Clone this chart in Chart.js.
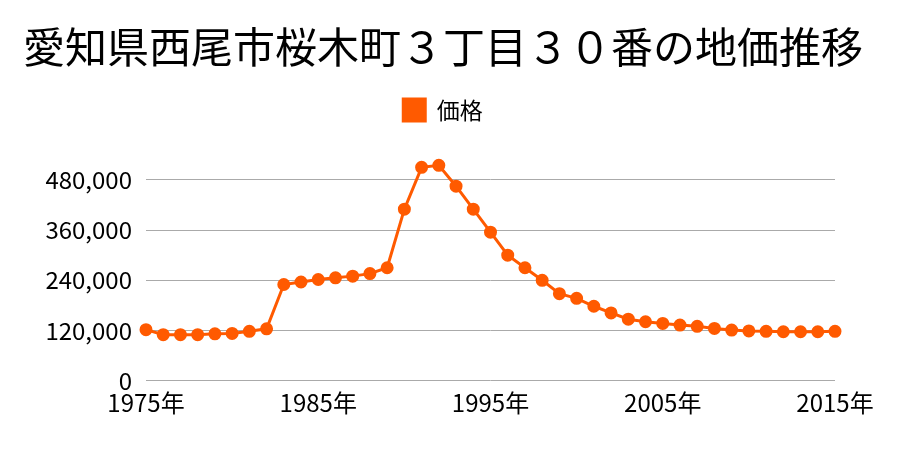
<!DOCTYPE html>
<html>
<head>
<meta charset="utf-8">
<script src="https://cdn.jsdelivr.net/npm/chart.js@4/dist/chart.umd.min.js"></script>
<style>
html,body{margin:0;padding:0;background:#fff;}
#wrap{width:900px;height:450px;}
</style>
</head>
<body>
<div id="wrap"><canvas id="c" width="900" height="450"></canvas></div>
<script>
const titleText = "愛知県西尾市桜木町３丁目３０番の地価推移";
const seriesName = "価格";
const years = [1975,1976,1977,1978,1979,1980,1981,1982,1983,1984,1985,1986,1987,1988,1989,1990,1991,1992,1993,1994,1995,1996,1997,1998,1999,2000,2001,2002,2003,2004,2005,2006,2007,2008,2009,2010,2011,2012,2013,2014,2015];
const prices = [122000,110000,110000,110000,112000,113000,118000,124000,230000,236000,242000,246000,250000,256000,270000,410000,510000,515000,465000,410000,355000,300000,270000,240000,208000,197000,178000,162000,147000,141000,137000,133000,130000,125000,121000,119000,118000,117000,117000,117000,118000];
const yTicks = [0,120000,240000,360000,480000];

const FONT = "'Noto Sans CJK JP', 'Noto Sans', sans-serif";
const COLOR = '#ff5a00';

new Chart(document.getElementById('c'), {
  type: 'line',
  data: {
    labels: years.map(y => y + '年'),
    datasets: [{
      label: seriesName,
      data: prices,
      borderColor: COLOR,
      backgroundColor: COLOR,
      pointBackgroundColor: COLOR,
      pointBorderColor: COLOR,
      borderWidth: 3,
      pointRadius: 5,
      tension: 0,
      clip: false
    }]
  },
  options: {
    responsive: false,
    animation: false,
    devicePixelRatio: 1,
    layout: { padding: { left: 0, right: 14, top: 0, bottom: 32.5 } },
    plugins: {
      title: {
        display: true,
        text: titleText,
        color: '#000',
        font: { family: FONT, size: 42, weight: 'normal' },
        padding: { top: 22, bottom: 16 }
      },
      legend: {
        display: true,
        labels: {
          color: '#000',
          font: { family: FONT, size: 23 },
          boxWidth: 22,
          boxHeight: 22,
          padding: 10
        }
      },
      tooltip: { enabled: false }
    },
    scales: {
      x: {
        offset: false,
        grid: { display: false },
        border: { display: false },
        ticks: {
          autoSkip: false,
          maxRotation: 0,
          color: '#000',
          font: { family: FONT, size: 24 },
          padding: 0,
          callback: function(v, i) { return (years[i] - 1975) % 10 === 0 ? this.getLabelForValue(v) : ''; }
        }
      },
      y: {
        min: 0,
        max: 596000,
        grid: { color: '#aaaaaa', lineWidth: 1, drawTicks: false },
        border: { display: false },
        afterBuildTicks: s => { s.ticks = yTicks.map(v => ({ value: v })); },
        afterFit: s => { s.width = 146; },
        ticks: {
          color: '#000',
          font: { family: FONT, size: 24 },
          padding: 14,
          callback: v => v.toLocaleString('en-US')
        }
      },
      yRightSpace: {
        type: 'linear',
        position: 'right',
        display: true,
        grid: { display: false },
        border: { display: false },
        ticks: { display: false },
        afterFit: s => { s.width = 51; }
      }
    }
  }
});
</script>
</body>
</html>
